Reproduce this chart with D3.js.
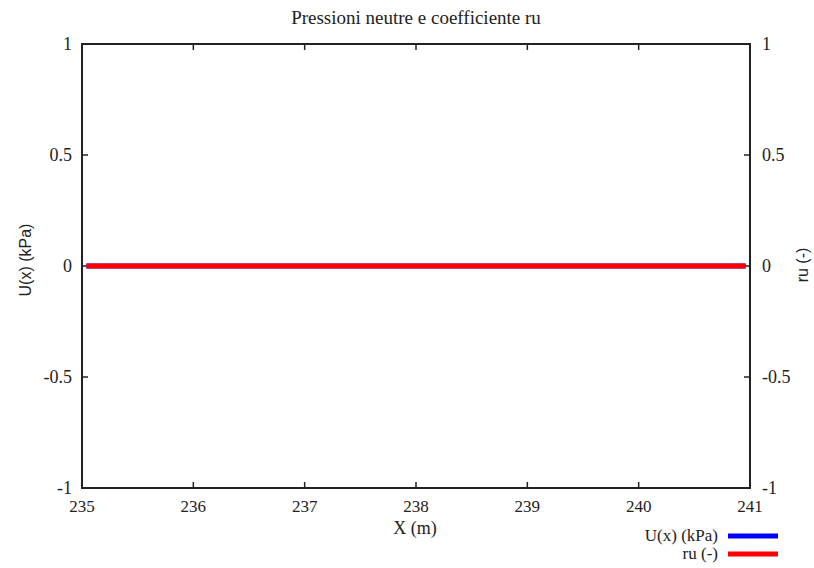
<!DOCTYPE html>
<html>
<head>
<meta charset="utf-8">
<script src="https://cdn.jsdelivr.net/npm/d3@7"></script>
<style>
  body { margin: 0; background: #fff; }
  svg text { font-family: "Times New Roman", "Liberation Serif", "DejaVu Serif", serif; fill: #222; }
  svg text.sans { font-family: "Liberation Sans", Arial, sans-serif; }
</style>
</head>
<body>
<svg id="chart" width="814" height="568"></svg>
<script>
// data
var xPos = [235.04, 236, 237, 238, 239, 240, 240.96];
var uVals = [0, 0, 0, 0, 0, 0, 0];     // U(x) (kPa)
var ruVals = [0, 0, 0, 0, 0, 0, 0];    // ru (-)
var xTicks = [235, 236, 237, 238, 239, 240, 241];
var yTicks = [-1, -0.5, 0, 0.5, 1];

var margin = {left: 82, right: 64, top: 44, bottom: 80};
var W = 814, H = 568;
var svg = d3.select("#chart");

var x = d3.scaleLinear().domain([235, 241]).range([margin.left, W - margin.right]);
var yL = d3.scaleLinear().domain([-1, 1]).range([H - margin.bottom, margin.top]);
var yR = d3.scaleLinear().domain([-1, 1]).range([H - margin.bottom, margin.top]);

var tk = 6;
// ticks (inward)
svg.selectAll(".xt").data(xTicks).enter().append("path")
    .attr("stroke", "#222").attr("stroke-width", 1.5)
    .attr("d", function(d) {
        return "M" + x(d) + "," + yL(-1) + "V" + (yL(-1) - tk) +
               "M" + x(d) + "," + yL(1) + "V" + (yL(1) + tk);
    });
svg.selectAll(".yt").data(yTicks).enter().append("path")
    .attr("stroke", "#222").attr("stroke-width", 1.5)
    .attr("d", function(d) {
        return "M" + x(235) + "," + yL(d) + "H" + (x(235) + tk) +
               "M" + x(241) + "," + yR(d) + "H" + (x(241) - tk);
    });

// frame
svg.append("rect")
    .attr("x", x(235)).attr("y", yL(1))
    .attr("width", x(241) - x(235)).attr("height", yL(-1) - yL(1))
    .attr("fill", "none").attr("stroke", "#222").attr("stroke-width", 2);

// tick labels
svg.selectAll(".xl").data(xTicks).enter().append("text")
    .attr("x", function(d) { return x(d); }).attr("y", 512)
    .attr("text-anchor", "middle").attr("font-size", 17)
    .text(function(d) { return d; });
svg.selectAll(".yl").data(yTicks).enter().append("text")
    .attr("x", x(235) - 10).attr("y", function(d) { return yL(d) + 6; })
    .attr("text-anchor", "end").attr("font-size", 18)
    .text(function(d) { return d; });
svg.selectAll(".yr").data(yTicks).enter().append("text")
    .attr("x", x(241) + 12).attr("y", function(d) { return yR(d) + 6; })
    .attr("text-anchor", "start").attr("font-size", 18)
    .text(function(d) { return d; });

// titles
svg.append("text").attr("x", 416).attr("y", 24).attr("text-anchor", "middle")
    .attr("font-size", 19).text("Pressioni neutre e coefficiente ru");
svg.append("text").attr("x", 415).attr("y", 534).attr("text-anchor", "middle")
    .attr("font-size", 18).text("X (m)");
svg.append("text").attr("class", "sans").attr("transform", "translate(31,260) rotate(-90)")
    .attr("text-anchor", "middle").attr("font-size", 16).text("U(x) (kPa)");
svg.append("text").attr("class", "sans").attr("transform", "translate(808,265) rotate(-90)")
    .attr("text-anchor", "middle").attr("font-size", 16).text("ru (-)");

// lines
var lineU = d3.line().x(function(d, i) { return x(xPos[i]); }).y(function(d) { return yL(d); });
var lineR = d3.line().x(function(d, i) { return x(xPos[i]); }).y(function(d) { return yR(d); });
svg.append("path").datum(uVals).attr("d", lineU)
    .attr("fill", "none").attr("stroke", "#0000ff").attr("stroke-width", 5);
svg.append("path").datum(ruVals).attr("d", lineR)
    .attr("fill", "none").attr("stroke", "#ff0000").attr("stroke-width", 5);

// legend
var legend = [{name: "U(x) (kPa)", color: "#0000ff"}, {name: "ru (-)", color: "#ff0000"}];
var lg = svg.selectAll(".lg").data(legend).enter().append("g")
    .attr("transform", function(d, i) { return "translate(0," + (541 + i * 18) + ")"; });
lg.append("text").attr("x", 718).attr("y", 0).attr("text-anchor", "end")
    .attr("font-size", 17).text(function(d) { return d.name; });
lg.append("path").attr("d", "M728,-5H778")
    .attr("stroke", function(d) { return d.color; }).attr("stroke-width", 5);
</script>
</body>
</html>
